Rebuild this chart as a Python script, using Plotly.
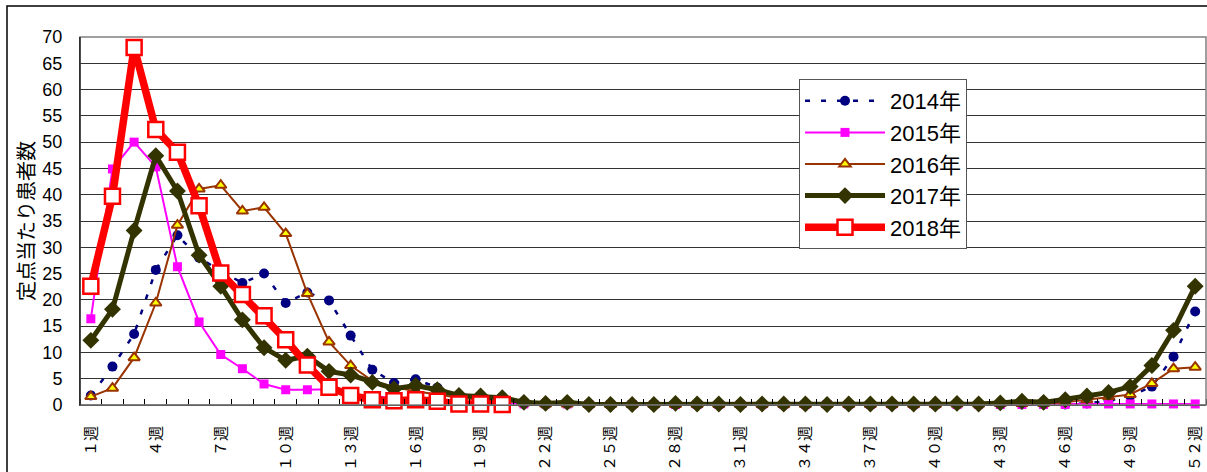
import plotly.graph_objects as go

# ---- data ----
weeks = list(range(1, 53))

label_weeks = [1, 4, 7, 10, 13, 16, 19, 22, 25, 28, 31, 34, 37, 40, 43, 46, 49, 52]
label_text = ["１週", "４週", "７週", "１０週", "１３週", "１６週", "１９週", "２２週", "２５週",
              "２８週", "３１週", "３４週", "３７週", "４０週", "４３週", "４６週", "４９週", "５２週"]

series_names = ["2014年", "2015年", "2016年", "2017年", "2018年"]

v2014 = [1.8, 7.3, 13.5, 25.7, 32.3, 28.0, 25.5, 23.2, 25.0, 19.4, 21.4, 19.9, 13.2, 6.7, 4.2, 4.9,
         3.3, 1.8, 1.2, 0.8, 0.5, 0.2, 0.2, 0.1, 0.1, 0.1, 0.1, 0.1, 0.1, 0.1, 0.1, 0.1, 0.1, 0.1,
         0.1, 0.1, 0.1, 0.1, 0.1, 0.1, 0.1, 0.1, 0.1, 0.1, 0.1, 0.1, 0.3, 0.8, 1.7, 3.5, 9.2, 17.8]
v2015 = [16.4, 44.9, 50.0, 45.3, 26.3, 15.8, 9.6, 6.9, 4.0, 2.9, 2.9, 3.0, 1.6, 1.8, 1.2, 1.0,
         0.8, 0.5, 0.4, 0.3, 0.2, 0.2, 0.2, 0.1, 0.1, 0.1, 0.1, 0.1, 0.1, 0.1, 0.1, 0.1, 0.1, 0.1,
         0.1, 0.1, 0.1, 0.1, 0.1, 0.1, 0.1, 0.1, 0.1, 0.1, 0.1, 0.1, 0.2, 0.2, 0.2, 0.2, 0.2, 0.2]
v2016 = [1.6, 3.2, 9.0, 19.4, 34.2, 41.1, 41.8, 36.9, 37.6, 32.6, 21.2, 12.0, 7.5, 4.6, 3.4, 2.6,
         2.0, 1.4, 1.0, 0.7, 0.4, 0.2, 0.2, 0.1, 0.1, 0.1, 0.1, 0.1, 0.1, 0.1, 0.1, 0.1, 0.1, 0.1,
         0.1, 0.1, 0.1, 0.1, 0.1, 0.1, 0.2, 0.2, 0.3, 0.3, 0.3, 0.5, 1.0, 1.6, 2.0, 4.1, 6.9, 7.2]
v2017 = [12.3, 18.2, 33.2, 47.4, 40.7, 28.5, 22.6, 16.2, 10.9, 8.5, 9.3, 6.4, 5.7, 4.3, 3.1, 3.7,
         2.9, 1.8, 1.7, 1.4, 0.5, 0.3, 0.5, 0.1, 0.1, 0.1, 0.1, 0.3, 0.2, 0.2, 0.1, 0.2, 0.2, 0.2,
         0.1, 0.2, 0.2, 0.2, 0.2, 0.2, 0.3, 0.2, 0.4, 0.7, 0.5, 1.0, 1.7, 2.4, 3.5, 7.5, 14.2, 22.6]
v2018 = [22.6, 39.7, 68.0, 52.4, 48.1, 37.9, 25.1, 21.0, 17.0, 12.4, 7.6, 3.4, 1.8, 1.0, 0.8, 1.0,
         0.7, 0.2, 0.2, 0.1] + [None] * 32

series_values = [v2014, v2015, v2016, v2017, v2018]

# ---- styles ----
styles = [
    dict(line=dict(color="#000080", width=2.5, dash="5px,11px"),
         marker=dict(symbol="circle", size=10, color="#000080")),
    dict(line=dict(color="#FF00FF", width=2),
         marker=dict(symbol="square", size=9, color="#FF00FF")),
    dict(line=dict(color="#993300", width=2),
         marker=dict(symbol="triangle-up", size=10, color="#FFFF00",
                     line=dict(color="#993300", width=2))),
    dict(line=dict(color="#333300", width=5),
         marker=dict(symbol="diamond", size=13, color="#333300")),
    dict(line=dict(color="#FF0000", width=7.5),
         marker=dict(symbol="square", size=15, color="#FFFFFF",
                     line=dict(color="#FF0000", width=2.5))),
]

fig = go.Figure()
for i, (name, vals, st) in enumerate(zip(series_names, series_values, styles)):
    fig.add_trace(go.Scatter(x=weeks, y=vals, name=name, mode="lines+markers",
                             line=st["line"], marker=st["marker"], cliponaxis=False,
                             legendgroup=f"g{i}", connectgaps=False))

W, H = 1207, 472
ml, mr, mt, mb = 80, 1, 37, 67
pw, ph = W - ml - mr, H - mt - mb

def px_x(px):
    return (px - ml) / pw

def px_y(py):
    return (H - mb - py) / ph

boundaries = [w + 0.5 for w in range(0, 53)]

fig.update_layout(
    width=W, height=H,
    margin=dict(l=ml, r=mr, t=mt, b=mb, autoexpand=False),
    paper_bgcolor="white", plot_bgcolor="white",
    showlegend=True,
    legend=dict(x=px_x(799), y=px_y(79), xanchor="left", yanchor="top",
                bgcolor="white", bordercolor="#555555", borderwidth=1,
                font=dict(family="Liberation Sans, Noto Sans CJK JP", size=22, color="black"),
                itemwidth=80, tracegroupgap=0),
    xaxis=dict(range=[0.5, 52.5], showgrid=False, zeroline=False,
               showline=True, linecolor="black", linewidth=1,
               tickmode="array", tickvals=label_weeks, ticktext=label_text,
               tickangle=-90, ticks="outside", ticklen=14, tickcolor="rgba(0,0,0,0)",
               tickfont=dict(family="Noto Sans CJK JP", size=15, color="black"),
               minor=dict(tickmode="array", tickvals=boundaries, ticks="inside",
                          ticklen=6, tickcolor="black", tickwidth=1, showgrid=False),
               automargin=False, fixedrange=True),
    yaxis=dict(range=[0, 70], dtick=5, tick0=0, showgrid=True, gridcolor="#333333", gridwidth=1,
               zeroline=False, showline=True, linecolor="black", linewidth=1,
               ticks="outside", ticklen=13, tickcolor="rgba(0,0,0,0)",
               tickfont=dict(family="Liberation Sans, Arial", size=18, color="black"),
               automargin=False, fixedrange=True),
    annotations=[dict(text="定点当たり患者数", textangle=-90, xref="paper", yref="paper",
                      x=px_x(25), y=0.5, xanchor="center", yanchor="middle", showarrow=False,
                      font=dict(family="Noto Sans CJK JP", size=20, color="black"))],
    shapes=[
        dict(type="rect", xref="paper", yref="paper", x0=0, x1=1, y0=0, y1=1,
             line=dict(color="#808080", width=1.5), layer="above"),
        dict(type="line", xref="paper", yref="paper", x0=0, x1=0, y0=0, y1=1,
             line=dict(color="black", width=1), layer="above"),
        dict(type="line", xref="paper", yref="paper", x0=0, x1=1, y0=0, y1=0,
             line=dict(color="black", width=1), layer="below"),
        dict(type="rect", xref="paper", yref="paper", x0=px_x(7), x1=px_x(1230),
             y0=px_y(500), y1=px_y(6), line=dict(color="black", width=1.5), layer="below"),
    ],
)

fig.write_html("out.html", config={"displayModeBar": False},
               post_script="document.body.style.margin='0px';document.body.style.overflow='hidden';")
